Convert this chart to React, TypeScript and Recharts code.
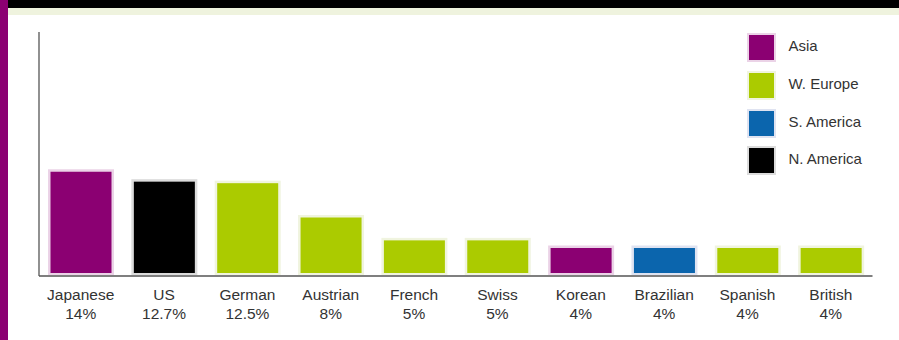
import {Bar, BarChart, Legend, XAxis, YAxis} from "recharts";

const nations = ["Japanese", "US", "German", "Austrian", "French", "Swiss", "Korean", "Brazilian", "Spanish", "British"];
const shares = [14, 12.7, 12.5, 8, 5, 5, 4, 4, 4, 4];
const nationRegion = ["Asia", "N. America", "W. Europe", "W. Europe", "W. Europe", "W. Europe", "Asia", "S. America", "W. Europe", "W. Europe"];

const regions = ["Asia", "W. Europe", "S. America", "N. America"];
const regionFill: Record<string, string> = {
    "Asia": "#8b0072",
    "W. Europe": "#abcb00",
    "S. America": "#0b65ad",
    "N. America": "#000000",
};
const regionTint: Record<string, string> = {
    "Asia": "#ebd3e7",
    "W. Europe": "#f0f4df",
    "S. America": "#dfe3f1",
    "N. America": "#dcdcdc",
};

const FONT = "'Liberation Sans', Arial, sans-serif";
const TEXT = "#333";

const data = nations.map((nation, i) => ({nation, share: shares[i], region: nationRegion[i]}));


function FramedBar(props: any) {
    const {x, y, width, height, payload} = props;
    const h = height - 1;
    return <g>
        <rect x={x} y={y} width={width} height={h} fill={regionTint[payload.region]}/>
        <rect x={x + 2.5} y={y + 2.5} width={width - 5} height={h - 4.5} fill={regionFill[payload.region]}/>
    </g>
}

function NationTick(props: any) {
    const {x, y, payload} = props;
    const i = nations.indexOf(payload.value);
    return <g transform={`translate(${x},${y})`}>
        <text textAnchor="middle" fill={TEXT} fontSize={15.5} fontFamily={FONT}>
            <tspan x={0} y={24}>{payload.value}</tspan>
            <tspan x={0} y={42.5}>{shares[i]}%</tspan>
        </text>
    </g>
}

function RegionLegend() {
    return <div style={{fontFamily: FONT, fontSize: 15, color: TEXT}}>
        {regions.map(r => (
            <div key={r} style={{display: "flex", alignItems: "center", height: 30, marginBottom: 7.8}}>
                <div style={{width: 25, height: 25, border: `2.5px solid ${regionTint[r]}`, background: regionFill[r]}}/>
                <span style={{marginLeft: 13, lineHeight: "30px", marginTop: -3}}>{r}</span>
            </div>
        ))}
    </div>
}


export default function App() {
    return <div style={{position: "absolute", left: 0, top: 0, width: 899, height: 340, background: "#fff", overflow: "hidden"}}>
        { /* page frame around the chart */}
        <div style={{position: "absolute", left: 0, top: 0, width: 8, height: 340, background: "#8b0072"}}/>
        <div style={{position: "absolute", left: 8, top: 0, width: 891, height: 7.5, background: "#000"}}/>
        <div style={{position: "absolute", left: 8, top: 8, width: 891, height: 7, background: "#eff3de"}}/>

        <div style={{position: "absolute", left: 0, top: 0}}>
            <BarChart width={899} height={340} data={data} barSize={66}
                      margin={{top: 32, right: 26.5, left: 38, bottom: 0}}>
                <XAxis dataKey="nation" interval={0} height={64} tickLine={false} tickSize={0} tickMargin={0}
                       axisLine={{stroke: "#555", strokeWidth: 1.3}} tick={<NationTick/>}/>
                { /* width must be > 0 or the axis line is not drawn */}
                <YAxis width={1} domain={[0, 32]} tick={false} tickLine={false}
                       axisLine={{stroke: "#555", strokeWidth: 1.3}}/>
                <Legend layout="vertical" align="center" verticalAlign="middle" content={<RegionLegend/>}
                        wrapperStyle={{left: 746.5, top: 32.5, width: 150, height: 150}}/>
                <Bar dataKey="share" shape={<FramedBar/>} isAnimationActive={false}/>
            </BarChart>
        </div>
    </div>
}
